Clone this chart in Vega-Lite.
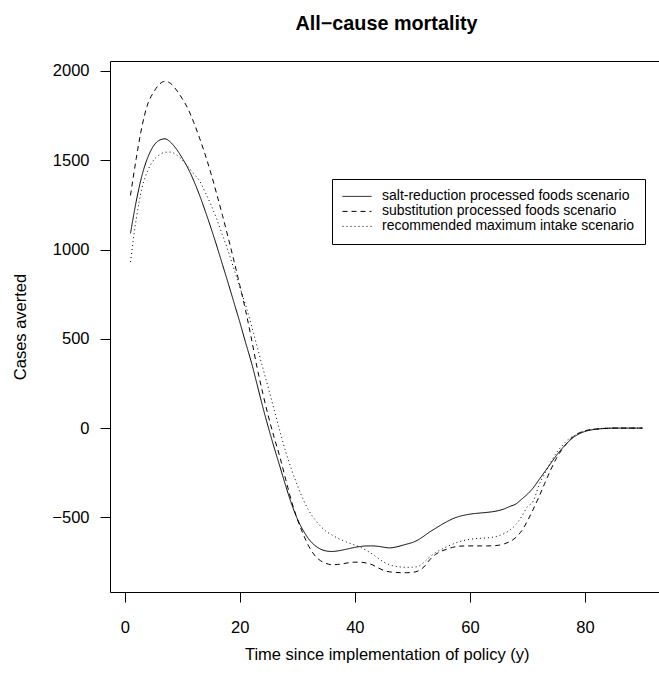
{
  "$schema": "https://vega.github.io/schema/vega-lite/v6.json",
  "width": 549,
  "height": 531,
  "autosize": {"type": "none"},
  "padding": {"left": 110, "top": 61, "right": 0, "bottom": 88},
  "background": "white",
  "config": {"view": {"stroke": null}, "font": "Liberation Sans"},
  "title": {"text": "All−cause mortality", "fontSize": 19.8, "fontWeight": "bold", "font": "Liberation Sans", "color": "black", "anchor": "middle", "baseline": "alphabetic", "offset": 11, "dx": 2, "frame": "group"},
  "datasets": {
    "scenarios": [
      {"key": "a", "scenario": "salt-reduction processed foods scenario"},
      {"key": "b", "scenario": "substitution processed foods scenario"},
      {"key": "c", "scenario": "recommended maximum intake scenario"}
    ],
    "curves": [
      {"t":1,"a":1090,"b":1303,"c":930},
      {"t":2,"a":1270,"b":1510,"c":1170},
      {"t":3,"a":1415,"b":1690,"c":1345},
      {"t":4,"a":1515,"b":1815,"c":1442},
      {"t":5,"a":1580,"b":1880,"c":1500},
      {"t":6,"a":1612,"b":1925,"c":1530},
      {"t":7,"a":1620,"b":1942,"c":1545},
      {"t":8,"a":1600,"b":1930,"c":1546},
      {"t":9,"a":1562,"b":1893,"c":1530},
      {"t":10,"a":1512,"b":1845,"c":1502},
      {"t":11,"a":1455,"b":1788,"c":1465},
      {"t":12,"a":1385,"b":1712,"c":1425},
      {"t":13,"a":1305,"b":1625,"c":1385},
      {"t":14,"a":1215,"b":1530,"c":1320},
      {"t":15,"a":1120,"b":1425,"c":1250},
      {"t":16,"a":1020,"b":1310,"c":1170},
      {"t":17,"a":915,"b":1190,"c":1080},
      {"t":18,"a":810,"b":1065,"c":990},
      {"t":19,"a":702,"b":935,"c":890},
      {"t":20,"a":594,"b":800,"c":790},
      {"t":21,"a":480,"b":660,"c":690},
      {"t":22,"a":370,"b":505,"c":578},
      {"t":23,"a":245,"b":340,"c":458},
      {"t":24,"a":118,"b":195,"c":338},
      {"t":25,"a":0,"b":62,"c":220},
      {"t":26,"a":-112,"b":-55,"c":100},
      {"t":27,"a":-218,"b":-165,"c":-20},
      {"t":28,"a":-325,"b":-290,"c":-135},
      {"t":29,"a":-425,"b":-410,"c":-232},
      {"t":30,"a":-508,"b":-510,"c":-320},
      {"t":31,"a":-572,"b":-592,"c":-398},
      {"t":32,"a":-622,"b":-662,"c":-462},
      {"t":33,"a":-656,"b":-712,"c":-510},
      {"t":34,"a":-677,"b":-742,"c":-548},
      {"t":35,"a":-688,"b":-758,"c":-578},
      {"t":36,"a":-691,"b":-765,"c":-598},
      {"t":37,"a":-688,"b":-764,"c":-616},
      {"t":38,"a":-682,"b":-759,"c":-631},
      {"t":39,"a":-675,"b":-754,"c":-644},
      {"t":40,"a":-668,"b":-751,"c":-655},
      {"t":41,"a":-663,"b":-751,"c":-668},
      {"t":42,"a":-660,"b":-756,"c":-685},
      {"t":43,"a":-660,"b":-765,"c":-705},
      {"t":44,"a":-662,"b":-782,"c":-728},
      {"t":45,"a":-667,"b":-797,"c":-750},
      {"t":46,"a":-671,"b":-805,"c":-765},
      {"t":47,"a":-667,"b":-808,"c":-774},
      {"t":48,"a":-659,"b":-810,"c":-778},
      {"t":49,"a":-650,"b":-810,"c":-780},
      {"t":50,"a":-641,"b":-808,"c":-779},
      {"t":51,"a":-626,"b":-800,"c":-775},
      {"t":52,"a":-605,"b":-778,"c":-752},
      {"t":53,"a":-582,"b":-738,"c":-722},
      {"t":54,"a":-562,"b":-708,"c":-698},
      {"t":55,"a":-542,"b":-690,"c":-680},
      {"t":56,"a":-524,"b":-678,"c":-664},
      {"t":57,"a":-508,"b":-668,"c":-650},
      {"t":58,"a":-496,"b":-662,"c":-638},
      {"t":59,"a":-488,"b":-660,"c":-629},
      {"t":60,"a":-482,"b":-660,"c":-623},
      {"t":61,"a":-478,"b":-660,"c":-619},
      {"t":62,"a":-475,"b":-660,"c":-617},
      {"t":63,"a":-472,"b":-660,"c":-615},
      {"t":64,"a":-468,"b":-659,"c":-611},
      {"t":65,"a":-462,"b":-656,"c":-603},
      {"t":66,"a":-452,"b":-648,"c":-590},
      {"t":67,"a":-438,"b":-635,"c":-570},
      {"t":68,"a":-425,"b":-612,"c":-540},
      {"t":69,"a":-398,"b":-575,"c":-495},
      {"t":70,"a":-370,"b":-520,"c":-440},
      {"t":71,"a":-335,"b":-455,"c":-410},
      {"t":72,"a":-290,"b":-385,"c":-320},
      {"t":73,"a":-245,"b":-310,"c":-255},
      {"t":74,"a":-200,"b":-237,"c":-195},
      {"t":75,"a":-155,"b":-172,"c":-140},
      {"t":76,"a":-115,"b":-120,"c":-100},
      {"t":77,"a":-80,"b":-80,"c":-66},
      {"t":78,"a":-52,"b":-46,"c":-45},
      {"t":79,"a":-32,"b":-27,"c":-28},
      {"t":80,"a":-19,"b":-15,"c":-16},
      {"t":81,"a":-11,"b":-8,"c":-9},
      {"t":82,"a":-6,"b":-5,"c":-5},
      {"t":83,"a":-3,"b":-2,"c":-2},
      {"t":84,"a":-1,"b":-1,"c":-1},
      {"t":85,"a":0,"b":0,"c":0},
      {"t":86,"a":0,"b":0,"c":0},
      {"t":87,"a":0,"b":0,"c":0},
      {"t":88,"a":0,"b":0,"c":0},
      {"t":89,"a":0,"b":0,"c":0},
      {"t":90,"a":0,"b":0,"c":0}
    ]
  },
  "data": {"name": "curves"},
  "transform": [
    {"fold": ["a", "b", "c"], "as": ["key", "cases"]},
    {"lookup": "key", "from": {"data": {"name": "scenarios"}, "key": "key", "fields": ["scenario"]}}
  ],
  "layer": [
    {
      "mark": {"type": "line", "color": "black", "strokeWidth": 1, "interpolate": "monotone"},
      "encoding": {
        "x": {"field": "t", "type": "quantitative",
          "scale": {"domain": [-2.56, 92.87], "nice": false, "zero": false},
          "axis": {"orient": "bottom", "values": [0, 20, 40, 60, 80], "tickSize": 10, "labelPadding": 17, "labelFontSize": 16.5, "labelColor": "black", "labelFont": "Liberation Sans", "tickColor": "black", "domainColor": "black", "grid": false,
            "title": "Time since implementation of policy (y)", "titleFontSize": 16.5, "titleFontWeight": "normal", "titleColor": "black", "titleFont": "Liberation Sans", "titleX": 276.7, "titleY": 62, "titleBaseline": "middle", "titleAlign": "center"}},
        "y": {"field": "cases", "type": "quantitative",
          "scale": {"domain": [-918, 2056], "nice": false, "zero": false},
          "axis": {"values": [-500, 0, 500, 1000, 1500, 2000], "format": "d", "labelAngle": 0, "tickSize": 10, "labelPadding": 11, "labelFontSize": 16.5, "labelColor": "black", "labelFont": "Liberation Sans", "tickColor": "black", "domainColor": "black", "grid": false,
            "title": "Cases averted", "titleFontSize": 16.5, "titleFontWeight": "normal", "titleColor": "black", "titleFont": "Liberation Sans", "titleX": -90, "titleY": 265.5, "titleAngle": -90, "titleBaseline": "middle", "titleAlign": "center"}},
        "strokeDash": {"field": "scenario", "type": "nominal",
          "scale": {"domain": ["salt-reduction processed foods scenario", "substitution processed foods scenario", "recommended maximum intake scenario"], "range": [[1, 0], [5, 4], [1, 3]]},
          "legend": {"orient": "none", "legendX": 222, "legendY": 118, "title": null, "padding": 10, "strokeColor": "black", "fillColor": "white", "labelFontSize": 14, "labelFont": "Liberation Sans", "labelColor": "black", "labelLimit": 400, "labelOffset": 10, "symbolType": "stroke", "symbolSize": 841, "symbolStrokeWidth": 1, "symbolStrokeColor": "black", "clipHeight": 14.8, "rowPadding": 0}}
      }
    },
    {
      "mark": {"type": "line", "opacity": 0},
      "encoding": {
        "x": {"field": "t", "type": "quantitative", "axis": {"orient": "top", "labels": false, "ticks": false, "title": null, "domainColor": "black", "grid": false}},
        "y": {"field": "cases", "type": "quantitative"},
        "detail": {"field": "key"}
      }
    }
  ],
  "resolve": {"axis": {"x": "independent"}}
}
